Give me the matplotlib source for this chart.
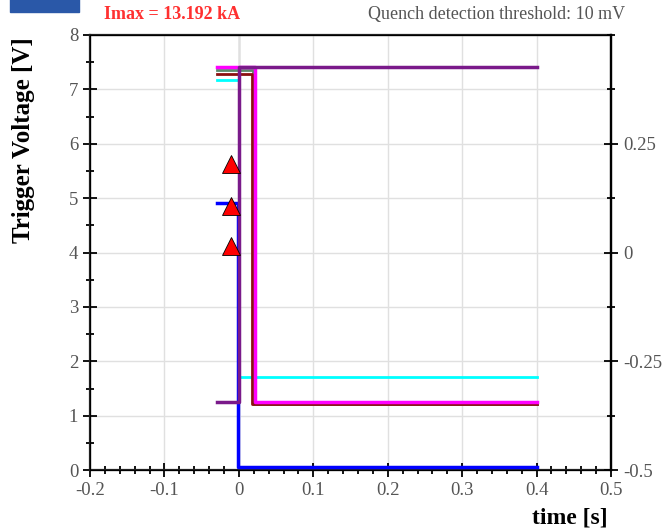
import numpy as np
import matplotlib.pyplot as plt
from matplotlib.patches import Rectangle
from matplotlib.ticker import MultipleLocator

plt.rcParams['font.family'] = ['Liberation Serif', 'DejaVu Serif']

# step traces: time points and voltage levels (V)
t_magenta = [-0.03, 0.021, 0.021, 0.4]
v_magenta = [7.42, 7.42, 1.25, 1.25]
t_green = [-0.03, 0.019, 0.019, 0.4]
v_green = [7.36, 7.36, 1.22, 1.22]
t_darkred = [-0.03, 0.018, 0.018, 0.4]
v_darkred = [7.29, 7.29, 1.21, 1.21]
t_cyan = [-0.03, 0.0, 0.0, 0.4]
v_cyan = [7.17, 7.17, 1.71, 1.71]
t_blue = [-0.03, -0.001, -0.001, 0.4]
v_blue = [4.92, 4.92, 0.05, 0.05]
t_purple = [-0.03, 0.0, 0.0, 0.4]
v_purple = [1.25, 1.25, 7.41, 7.41]

# trigger markers
t_trig = [-0.01, -0.01, -0.01]
v_trig = [5.62, 4.85, 4.12]

x_ticks = [-0.2, -0.1, 0, 0.1, 0.2, 0.3, 0.4, 0.5]
x_labels = ['-0.2', '-0.1', '0', '0.1', '0.2', '0.3', '0.4', '0.5']
y_ticks = [0, 1, 2, 3, 4, 5, 6, 7, 8]
r_ticks = [-0.5, -0.25, 0, 0.25]
r_labels = ['-0.5', '-0.25', '0', '0.25']

fig = plt.figure(figsize=(6.62, 5.30), dpi=100)
ax = fig.add_axes([0.136, 0.113, 0.787, 0.821])

# logo piece in the corner
fig.patches.append(Rectangle((0.015, 0.977), 0.105, 0.03, transform=fig.transFigure,
                             color='#2a58a8', zorder=0))

ax.axvline(0, color='#909090', lw=1, zorder=1)
ax.plot(t_cyan, v_cyan, color='#00ffff', lw=2, zorder=2)
ax.plot(t_darkred, v_darkred, color='#8b1010', lw=2, zorder=3)
ax.plot(t_green, v_green, color='#5a8a6a', lw=2, zorder=2)
ax.plot(t_blue, v_blue, color='#0000ff', lw=2.5, zorder=3)
ax.plot(t_magenta, v_magenta, color='#ff00ff', lw=2.5, zorder=4)
ax.plot(t_purple, v_purple, color='#7a1a8a', lw=2.5, zorder=5)
ax.plot(t_trig, v_trig, '^', color='red', markersize=13, markeredgecolor='black',
        markeredgewidth=0.6, zorder=6, clip_on=False)

ax.set_xlim(-0.2, 0.5)
ax.set_ylim(0, 8)
ax.set_xticks(x_ticks)
ax.set_xticklabels(x_labels)
ax.set_yticks(y_ticks)
ax.xaxis.set_minor_locator(MultipleLocator(0.02))
ax.yaxis.set_minor_locator(MultipleLocator(0.5))
ax.grid(True, color='#e0e0e0', lw=1)
ax.tick_params(which='both', direction='inout', colors='black', labelcolor='#555555',
               labelsize=13.5, width=1.3)
ax.tick_params(which='major', length=10)
ax.tick_params(which='minor', length=6)
for s in ax.spines.values():
    s.set_linewidth(1.6)
    s.set_color('#222222')

ax2 = ax.twinx()
ax2.set_ylim(-0.5, 0.5)
ax2.set_yticks(r_ticks)
ax2.set_yticklabels(r_labels)
ax2.yaxis.set_minor_locator(MultipleLocator(0.125))
ax2.tick_params(which='both', direction='inout', labelcolor='#555555', labelsize=13.5, width=1.3)
ax2.tick_params(which='major', length=10)
ax2.tick_params(which='minor', length=6)
ax2.spines['right'].set_linewidth(1.6)

fig.text(0.035, 0.735, 'Trigger Voltage [V]', fontsize=18, fontweight='bold',
         rotation=90, ha='center', va='center')
fig.text(0.918, 0.012, 'time [s]', fontsize=17, fontweight='bold', ha='right')
fig.text(0.157, 0.965, 'Imax = 13.192 kA', fontsize=13, fontweight='bold', color='#ff3030')
fig.text(0.945, 0.965, 'Quench detection threshold: 10 mV', fontsize=13, color='#555555',
         ha='right')

fig.savefig('out.png', dpi=100)
